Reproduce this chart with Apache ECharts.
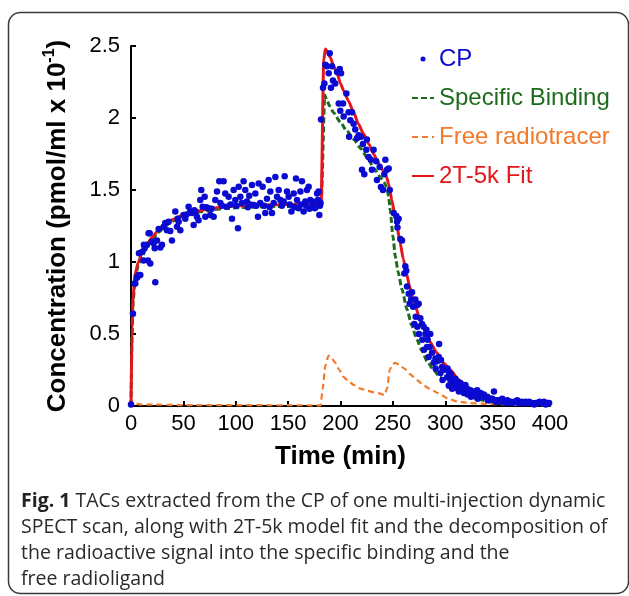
<!DOCTYPE html>
<html><head><meta charset="utf-8">
<script src="https://cdn.jsdelivr.net/npm/echarts@6/dist/echarts.min.js"></script>
<style>html,body{margin:0;padding:0;background:#fff}#c{width:629px;height:596px}</style>
</head><body><div id="c"></div>
<script>
// ---- data (time in min, concentration in pmol/ml x 10^-1) ----
const xMin = 0, xMax = 400, xStep = 50;
const yMin = 0, yMax = 2.5, yStep = 0.5;
const seriesNames = ['CP', 'Specific Binding', 'Free radiotracer', '2T-5k Fit'];

const cpPoints = [
[0,0.01],[1.9,0.64],[3.5,0.85],[4.1,0.85],[5.7,0.89],[6.2,0.90],[7.3,0.91],[8.9,0.91],[7.6,1.06],[10.5,1.07],[12,1.01],[12.3,1.12],[13,1.095],[15.2,1.12],[16.2,1.01],[16.8,1.20],[17.8,1.20],[18.4,0.99],[20,1.14],[21.6,1.13],[22.6,1.095],[23.2,0.86],[24.8,1.15],[26.4,1.23],[28,1.10],[29.6,1.12],[31.2,1.245],[32.7,1.27],[34.3,1.22],[35.9,1.28],[37.5,1.215],[39.1,1.15],[42.3,1.35],[43.9,1.245],[44.5,1.30],[45.5,1.28],[47.1,1.22],[50.2,1.326],[51.8,1.30],[53,1.33],[55,1.384],[56.6,1.35],[58.2,1.34],[59.8,1.257],[60.5,1.36],[61.4,1.35],[62.9,1.315],[64.5,1.29],[66.1,1.43],[67.1,1.50],[68.4,1.384],[70.3,1.453],[70.9,1.315],[72,1.38],[74.1,1.373],[75.7,1.326],[77,1.37],[78.9,1.315],[80.5,1.43],[82.1,1.49],[84.3,1.56],[85.3,1.41],[87,1.39],[88.4,1.56],[90,1.475],[91.6,1.384],[93.2,1.453],[95,1.40],[96.4,1.30],[98,1.50],[99.6,1.43],[100.5,1.39],[102.1,1.234],[102.8,1.523],[104.4,1.453],[105.9,1.41],[107.5,1.56],[109.1,1.50],[110.7,1.42],[111.5,1.38],[112.9,1.46],[114,1.40],[115.5,1.535],[117.1,1.395],[118.7,1.475],[119.5,1.39],[121.2,1.315],[121.9,1.546],[123.4,1.41],[125.7,1.523],[127,1.39],[128.2,1.34],[129.8,1.44],[131.4,1.57],[132.3,1.38],[133,1.49],[134.6,1.34],[136.2,1.41],[137.8,1.59],[139.4,1.453],[141,1.50],[142.6,1.43],[144,1.39],[145.8,1.42],[146.7,1.595],[148.9,1.49],[150.5,1.453],[151.5,1.40],[153.1,1.35],[155.3,1.475],[156.2,1.38],[157.5,1.58],[158.5,1.43],[160,1.373],[161.7,1.49],[162.5,1.40],[163.2,1.56],[164.8,1.35],[166.4,1.42],[167.2,1.39],[168,1.50],[169.6,1.523],[170.3,1.37],[171.2,1.43],[173.4,1.42],[174.2,1.40],[175.4,1.373],[176.3,1.38],[177.6,1.475],[178.5,1.43],[179.1,1.49],[179.8,1.326],[180.4,1.39],[181.0,1.41],
[181.4,1.99],[183.3,2.21],[184.6,2.24],[185.5,2.37],[187.1,2.36],[188.7,2.31],[189.7,2.45],[190.9,2.21],[191.9,2.36],[192.8,2.26],[195,2.24],[196.7,2.32],[198.3,2.10],[199.3,2.34],[199.8,2.05],[200.5,2.31],[202.4,2.10],[203,2.01],[205.6,2.17],[207.8,2.04],[208.2,1.87],[209.4,1.985],[211,2.04],[212.5,1.96],[214.1,1.92],[215.7,1.86],[217.3,1.88],[219.5,1.87],[220.5,1.64],[221.4,1.82],[222.7,1.61],[224.6,1.78],[225.2,1.85],[226.8,1.73],[229,1.71],[230,1.64],[231.6,1.78],[234.1,1.70],[234.8,1.57],[237.4,1.66],[238.6,1.52],[240.5,1.50],[241.8,1.61],[242.8,1.71],[244.4,1.64],[246,1.65],[247,1.50],[250.8,1.34],[253.3,1.32],[254,1.28],[254.4,1.24],[255.5,1.30],[257.1,1.16],[258.7,1.15],[260.9,0.92],[261.9,0.97],[262.8,0.94],[263.5,0.83],[265.1,0.78],[266,0.71],[267.4,0.74],[268.3,0.79],[269.3,0.69],[270.5,0.57],[271.4,0.74],[271.8,0.62],[273,0.70],[273.3,0.55],[274.6,0.71],[274.9,0.50],[276.2,0.61],[277.8,0.57],[278.1,0.46],[279.4,0.55],[279.7,0.39],[281,0.50],[282,0.53],[282.6,0.41],[283.2,0.46],[284.2,0.34],[285.1,0.41],[285.7,0.50],[287.4,0.37],[289,0.30],[290.6,0.33],[290.9,0.26],[292.2,0.31],[293.8,0.34],[294.1,0.43],[294.7,0.32],[295.4,0.23],[295.9,0.32],[297,0.27],[297.4,0.18],[298.6,0.25],[301.8,0.20],[302.2,0.26],[303.4,0.14],[303.8,0.23],[305,0.18],[305.4,0.22],[306.6,0.12],[307,0.18],[308.2,0.16],[309.7,0.19],[310,0.14],[311.3,0.13],[311.7,0.17],[312.4,0.15],[313,0.10],[314.5,0.16],[314.9,0.11],[316.1,0.13],[316.6,0.11],[317.8,0.09],[318.4,0.12],[319.3,0.145],[319.8,0.12],[320.9,0.12],[321.3,0.08],[322.4,0.10],[323.2,0.09],[324.1,0.11],[324.6,0.065],[326,0.08],[327.3,0.10],[327.8,0.09],[328.6,0.07],[329.4,0.08],[330.5,0.11],[331,0.05],[332,0.07],[333.7,0.09],[335.4,0.065],[336.9,0.08],[338,0.06],[340.1,0.065],[340.6,0.04],[342,0.04],[343.3,0.05],[345,0.05],[346.5,0.10],[348,0.03],[349.6,0.04],[351,0.04],[353,0.03],[354.4,0.05],[356,0.03],[358,0.02],[359.2,0.04],[361,0.03],[362.4,0.03],[364,0.02],[366,0.03],[368.7,0.04],[370,0.02],[371.9,0.02],[373,0.03],[375,0.02],[376.7,0.03],[378,0.02],[380,0.03],[381.5,0.02],[383,0.02],[385,0.01],[386.3,0.02],[388,0.02],[390,0.03],[391.1,0.02],[393,0.02],[394.3,0.03],[396,0.01],[398,0.02],[399.1,0.02]
];

const fitCurve = [
[0,0],[1,0.55],[2,0.76],[4,0.92],[7,1.0],[10.5,1.06],[15,1.12],[20,1.17],[26,1.22],[33,1.265],[40,1.295],[49,1.325],[58,1.345],[68,1.36],[80,1.375],[90,1.384],[105,1.39],[122,1.396],[140,1.398],[160,1.40],[181.5,1.40],[184,2.40],[185.5,2.48],[187.5,2.46],[190.3,2.42],[193.5,2.36],[196.7,2.31],[200,2.24],[203,2.19],[207.5,2.12],[212.5,2.04],[217,1.96],[222,1.89],[227,1.82],[231.6,1.75],[236,1.69],[241,1.63],[244,1.59],[246,1.54],[249,1.43],[251.5,1.34],[254,1.245],[257,1.13],[260,1.02],[263,0.92],[266,0.83],[269,0.75],[272,0.68],[276,0.60],[280,0.53],[285,0.45],[292,0.37],[298,0.30],[305,0.25],[313,0.18],[321,0.13],[330,0.09],[340,0.065],[355,0.04],[372,0.03],[400,0.02]
];

const specificCurve = [
[0,0],[1,0.48],[2,0.72],[4,0.89],[7,0.98],[10.5,1.04],[15,1.10],[20,1.155],[26,1.205],[33,1.25],[40,1.285],[49,1.315],[58,1.335],[68,1.35],[80,1.365],[90,1.372],[105,1.378],[122,1.382],[140,1.385],[160,1.386],[181.5,1.386],[185,2.16],[187,2.12],[190,2.08],[193,2.04],[200,1.97],[206,1.91],[213,1.85],[219,1.79],[226,1.72],[232,1.65],[238,1.59],[242,1.55],[244.5,1.51],[246,1.45],[247.5,1.36],[250,1.18],[252.3,1.04],[255,0.93],[258.7,0.81],[263.5,0.67],[268,0.56],[273,0.46],[278,0.38],[282.6,0.31],[289,0.25],[295,0.20],[303,0.15],[311,0.11],[320,0.08],[330,0.05],[342,0.03],[355,0.02],[370,0.01],[400,0.005]
];

const freeCurve = [
[0,0],[0.5,0.03],[2,0.02],[10,0.01],[60,0.006],[181,0.005],[183,0.12],[185.5,0.28],[188.6,0.35],[191,0.34],[195,0.30],[199,0.25],[203,0.20],[208,0.17],[213,0.145],[219,0.12],[226,0.105],[232,0.095],[236,0.09],[242,0.076],[244.5,0.12],[247,0.25],[249.5,0.29],[252.3,0.30],[256,0.285],[261,0.26],[266.6,0.22],[273,0.18],[280,0.14],[285,0.12],[293,0.09],[303,0.05],[312,0.03],[324,0.02],[343,0.014],[370,0.008],[400,0.005]
];

const captionLines = [
  ['Fig. 1', ' TACs extracted from the CP of one multi-injection dynamic'],
  ['', 'SPECT scan, along with 2T-5k model fit and the decomposition of'],
  ['', 'the radioactive signal into the specific binding and the'],
  ['', 'free radioligand']
];

// ---- styles ----
const C_CP = '#0a0ad0', C_SB = '#1d6b1d', C_FR = '#f27a2a', C_FIT = '#e3161b';
const axisFont = '"Liberation Sans", Arial, sans-serif';
const capFont = '"Open Sans", "Noto Sans", sans-serif';
const capSize = 19.5;

const chart = echarts.init(document.getElementById('c'), null, {renderer: 'canvas'});

const caption = captionLines.map((l, i) => ({
  type: 'text', left: 21, top: 491 + i * 26, z: 10,
  style: {
    text: (l[0] ? '{b|' + l[0] + '}' : '') + '{r|' + l[1] + '}',
    font: capSize + 'px ' + capFont, fill: '#222',
    rich: {
      b: {font: 'bold ' + capSize + 'px ' + capFont, fill: '#222'},
      r: {font: capSize + 'px ' + capFont, fill: '#2a2a2a'}
    }
  }
}));

const hideSym = {opacity: 0};

chart.setOption({
  animation: false,
  backgroundColor: '#fff',
  grid: {left: 131, right: 79, top: 46, bottom: 190, containLabel: false},
  xAxis: {
    type: 'value', min: xMin, max: xMax, interval: xStep,
    name: 'Time (min)', nameLocation: 'middle', nameGap: 38,
    nameTextStyle: {fontFamily: axisFont, fontWeight: 'bold', fontSize: 26, color: '#000'},
    axisLine: {show: true, onZero: false, lineStyle: {color: '#000', width: 2}},
    axisTick: {show: true, inside: true, length: 5, lineStyle: {color: '#000', width: 2}},
    axisLabel: {fontFamily: axisFont, fontSize: 22, color: '#000', margin: 7},
    splitLine: {show: false}
  },
  yAxis: {
    type: 'value', min: yMin, max: yMax, interval: yStep,
    name: '{t|Concentration (pmol/ml x 10}{s|-1}{t|)}', nameLocation: 'middle', nameGap: 57, nameRotate: 90,
    nameTextStyle: {
      color: '#000',
      rich: {
        t: {fontFamily: axisFont, fontWeight: 'bold', fontSize: 26, lineHeight: 32, color: '#000'},
        s: {fontFamily: axisFont, fontWeight: 'bold', fontSize: 16, lineHeight: 32, verticalAlign: 'top', color: '#000'}
      }
    },
    axisLine: {show: true, onZero: false, lineStyle: {color: '#000', width: 2}},
    axisTick: {show: true, inside: true, length: 5, lineStyle: {color: '#000', width: 2}},
    axisLabel: {fontFamily: axisFont, fontSize: 22, color: '#000', margin: 11},
    splitLine: {show: false}
  },
  legend: {
    orient: 'vertical', left: 406, top: 41, itemGap: 13, itemWidth: 22, itemHeight: 5,
    textStyle: {fontFamily: axisFont, fontSize: 24, lineHeight: 26},
    data: [
      {name: seriesNames[0], icon: 'circle', textStyle: {color: C_CP}},
      {name: seriesNames[1], itemStyle: hideSym, textStyle: {color: C_SB}},
      {name: seriesNames[2], itemStyle: hideSym, textStyle: {color: C_FR}},
      {name: seriesNames[3], itemStyle: hideSym, textStyle: {color: C_FIT}}
    ]
  },
  series: [
    {
      name: seriesNames[1], type: 'line', data: specificCurve, symbol: 'none', smooth: 0.2, smoothMonotone: 'x', z: 2,
      lineStyle: {color: C_SB, width: 3, type: [6, 3]}, itemStyle: {color: C_SB}
    },
    {
      name: seriesNames[2], type: 'line', data: freeCurve, symbol: 'none', smooth: 0.2, smoothMonotone: 'x', z: 2,
      lineStyle: {color: C_FR, width: 2.2, type: [6, 4]}, itemStyle: {color: C_FR}
    },
    {
      name: seriesNames[3], type: 'line', data: fitCurve, symbol: 'none', smooth: 0.2, smoothMonotone: 'x', z: 3,
      lineStyle: {color: C_FIT, width: 3}, itemStyle: {color: C_FIT}
    },
    {
      name: seriesNames[0], type: 'scatter', data: cpPoints, symbol: 'circle', symbolSize: 6.5, z: 4,
      itemStyle: {color: C_CP, opacity: 1}
    }
  ],
  graphic: [
    {type: 'rect', z: -1, shape: {x: 8.5, y: 12.5, width: 620, height: 581, r: 12},
     style: {fill: 'none', stroke: '#3a3a3a', lineWidth: 1.5}}
  ].concat(caption)
});
</script>
</body></html>
